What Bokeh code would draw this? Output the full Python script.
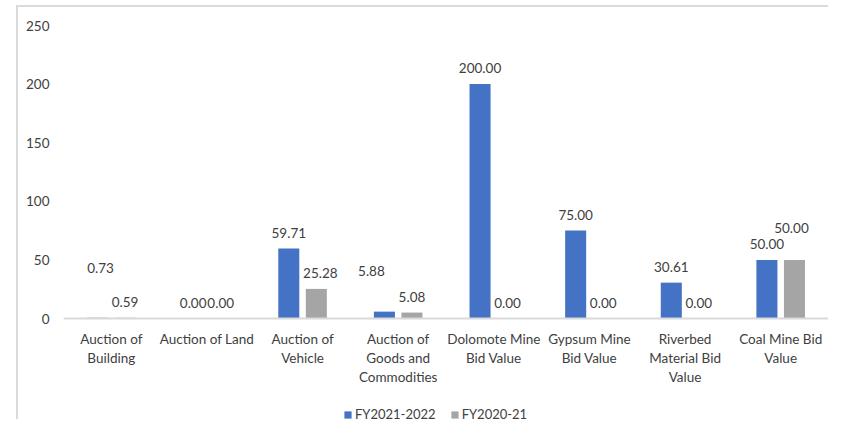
from bokeh.plotting import figure
from bokeh.models import ColumnDataSource, FactorRange, Legend, LegendItem, FixedTicker, Range1d
from bokeh.transform import dodge
from bokeh.core.properties import value
from bokeh.embed import file_html
from bokeh.resources import INLINE

categories = ["Auction of\nBuilding", "Auction of Land", "Auction of\nVehicle",
              "Auction of\nGoods and\nCommodities", "Dolomote Mine\nBid Value",
              "Gypsum Mine\nBid Value", "Riverbed\nMaterial Bid\nValue",
              "Coal Mine Bid\nValue"]
fy2122 = [0.73, 0.00, 59.71, 5.88, 200.00, 75.00, 30.61, 50.00]
fy2021 = [0.59, 0.00, 25.28, 5.08, 0.00, 0.00, 0.00, 50.00]
y_ticks = [0, 50, 100, 150, 200, 250]
series_names = ["FY2021-2022", "FY2020-21"]

# label placement tweaks (screen px), as in the original chart
lbl_dx_a = [3, 0, 0, -13, 0, 0, 0, 0]
lbl_dy_a = [50, 16, 16, 41, 16, 16, 16, 16]
lbl_dx_b = [0, 0, 4, 0, 0, 0, 0, -3]
lbl_dy_b = [16, 16, 16, 16, 16, 16, 16, 32]

FONT = "Lato"
FS = "13.5px"
TXT = "#404040"
BLUE = "#4472C4"
GRAY = "#A5A5A5"

src = ColumnDataSource(dict(
    cat=categories, a=fy2122, b=fy2021,
    la=["%.2f" % v for v in fy2122], lb=["%.2f" % v for v in fy2021],
    dxa=lbl_dx_a, dya=[-d for d in lbl_dy_a],
    dxb=lbl_dx_b, dyb=[-d for d in lbl_dy_b],
))

p = figure(x_range=FactorRange(*categories, range_padding=0),
           y_range=Range1d(-87.86, 250),
           width=812, height=414, output_backend="svg", toolbar_location=None,
           min_border_left=45, min_border_right=2, min_border_top=18,
           min_border_bottom=0)
p.styles = {"margin-left": "16px", "margin-top": "5px",
            "border-left": "2px solid #dadada", "border-top": "2px solid #dadada"}

off = 0.144
w = 0.22
ra = p.vbar(x=dodge("cat", -off, range=p.x_range), top="a", width=w, source=src,
            fill_color=BLUE, line_color=None)
rb = p.vbar(x=dodge("cat", off, range=p.x_range), top="b", width=w, source=src,
            fill_color=GRAY, line_color=None)

common = dict(text_font=value(FONT), text_font_size=FS, text_color=TXT,
              text_align="center", text_baseline="middle", source=src)
p.text(x=dodge("cat", -off, range=p.x_range), y="a", text="la",
       x_offset="dxa", y_offset="dya", **common)
p.text(x=dodge("cat", off, range=p.x_range), y="b", text="lb",
       x_offset="dxb", y_offset="dyb", **common)

p.xgrid.visible = False
p.ygrid.visible = False
p.outline_line_color = None

p.yaxis.ticker = FixedTicker(ticks=y_ticks)
p.yaxis.axis_line_color = None
p.yaxis.major_tick_line_color = None
p.yaxis.minor_tick_line_color = None
p.yaxis.major_tick_out = 0
p.yaxis.major_tick_in = 0
p.yaxis.major_label_standoff = 14
p.yaxis.major_label_text_font = FONT
p.yaxis.major_label_text_font_size = FS
p.yaxis.major_label_text_color = TXT

p.xaxis.fixed_location = 0
p.xaxis.axis_line_color = "#d9d9d9"
p.xaxis.axis_line_width = 2
p.xaxis.major_tick_line_color = None
p.xaxis.minor_tick_line_color = None
p.xaxis.major_tick_out = 0
p.xaxis.major_tick_in = 0
p.xaxis.major_label_standoff = 12
p.xaxis.major_label_text_font = FONT
p.xaxis.major_label_text_font_size = FS
p.xaxis.major_label_text_color = TXT

legend = Legend(items=[LegendItem(label=series_names[0], renderers=[ra]),
                       LegendItem(label=series_names[1], renderers=[rb])],
                orientation="horizontal", location=(280, -1),
                glyph_width=9, glyph_height=9, label_standoff=3, spacing=14,
                padding=0, margin=0, border_line_color=None,
                background_fill_alpha=0, label_text_font=FONT,
                label_text_font_size="13px", label_text_color=TXT,
                label_height=9)
p.add_layout(legend, "center")

open("out.html", "w").write(file_html(p, INLINE))
